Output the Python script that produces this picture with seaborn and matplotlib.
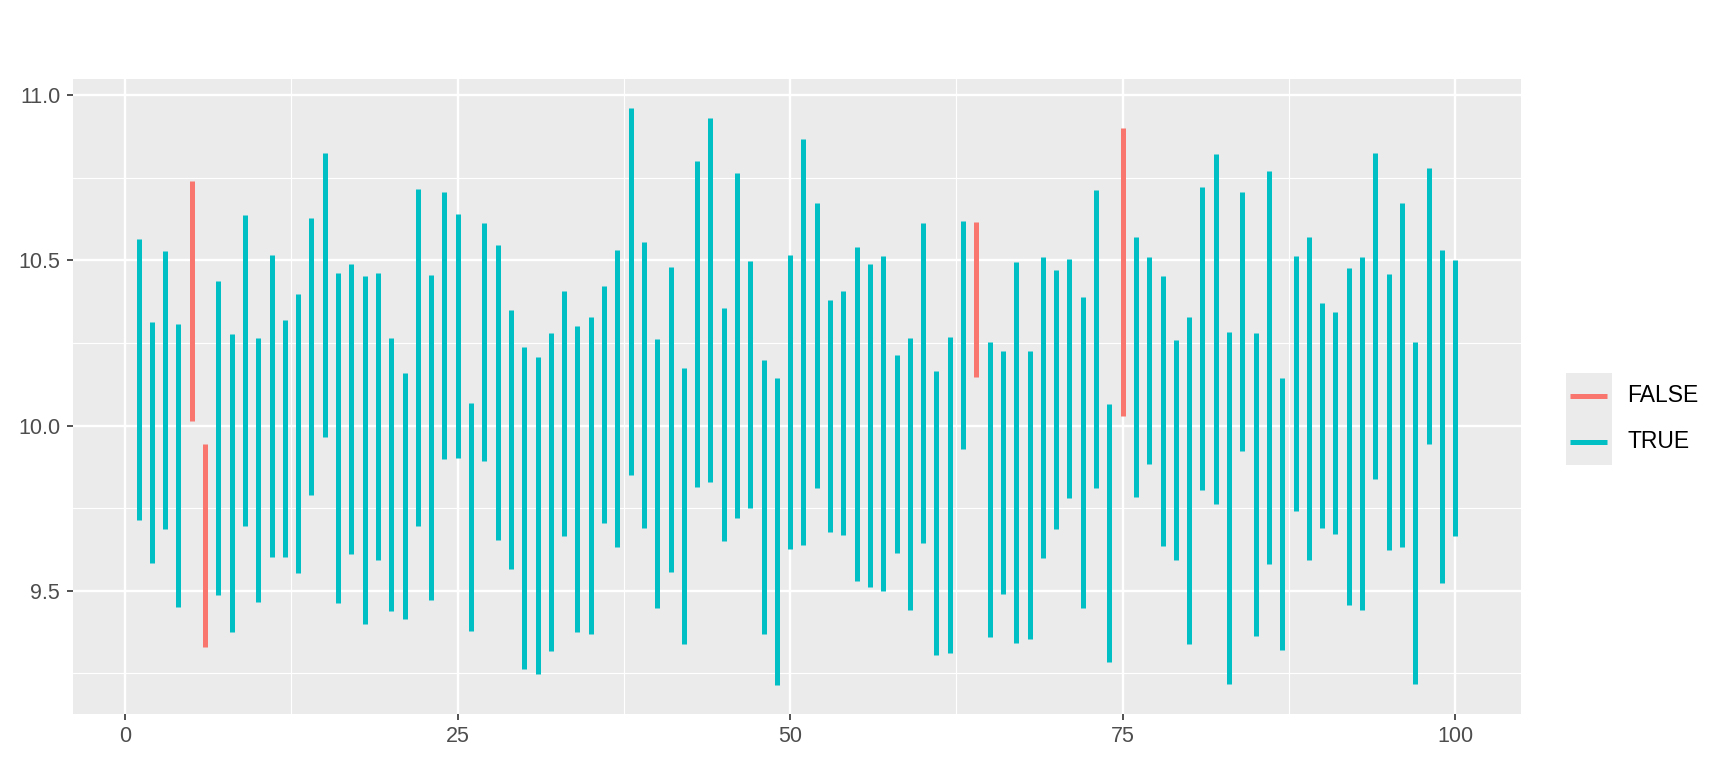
import pandas as pd
import numpy as np
import matplotlib
matplotlib.use("Agg")
import matplotlib.pyplot as plt
import seaborn as sns
from matplotlib.patches import Rectangle
from matplotlib.lines import Line2D

# intervalli (1..100)
ids = list(range(1, 101))
lo = [9.714, 9.585, 9.688, 9.452, 10.013, 9.331, 9.486, 9.374, 9.697, 9.467,
      9.603, 9.603, 9.555, 9.791, 9.964, 9.462, 9.612, 9.398, 9.594, 9.440,
      9.414, 9.697, 9.471, 9.898, 9.901, 9.377, 9.892, 9.655, 9.567, 9.263,
      9.247, 9.317, 9.666, 9.374, 9.368, 9.706, 9.633, 9.850, 9.690, 9.447,
      9.558, 9.338, 9.815, 9.829, 9.651, 9.721, 9.751, 9.368, 9.214, 9.627,
      9.640, 9.811, 9.679, 9.670, 9.530, 9.510, 9.500, 9.615, 9.443, 9.646,
      9.305, 9.313, 9.929, 10.146, 9.359, 9.491, 9.341, 9.353, 9.600, 9.688,
      9.780, 9.449, 9.811, 9.283, 10.028, 9.784, 9.883, 9.636, 9.594, 9.338,
      9.805, 9.763, 9.217, 9.923, 9.362, 9.582, 9.322, 9.742, 9.594, 9.690,
      9.673, 9.458, 9.443, 9.839, 9.624, 9.633, 9.217, 9.944, 9.524, 9.666]
hi = [10.566, 10.313, 10.528, 10.307, 10.739, 9.945, 10.437, 10.277, 10.636, 10.265,
      10.515, 10.320, 10.397, 10.629, 10.826, 10.461, 10.489, 10.452, 10.461, 10.265,
      10.160, 10.717, 10.456, 10.706, 10.640, 10.069, 10.612, 10.548, 10.349, 10.239,
      10.208, 10.280, 10.407, 10.301, 10.329, 10.421, 10.530, 10.962, 10.556, 10.263,
      10.480, 10.175, 10.802, 10.931, 10.355, 10.765, 10.497, 10.199, 10.145, 10.515,
      10.868, 10.673, 10.379, 10.407, 10.542, 10.489, 10.513, 10.214, 10.265, 10.612,
      10.166, 10.268, 10.618, 10.616, 10.253, 10.226, 10.494, 10.226, 10.509, 10.470,
      10.504, 10.388, 10.714, 10.066, 10.901, 10.570, 10.509, 10.452, 10.259, 10.329,
      10.723, 10.822, 10.283, 10.708, 10.280, 10.772, 10.145, 10.513, 10.572, 10.371,
      10.344, 10.476, 10.509, 10.826, 10.458, 10.675, 10.253, 10.780, 10.530, 10.500]
true_value = 10.0
levels = ["FALSE", "TRUE"]
palette = {"FALSE": "#F8766D", "TRUE": "#00BFC4"}
xticks = [0, 25, 50, 75, 100]
yticks = [9.5, 10.0, 10.5, 11.0]

# tabella lunga: due punti (basso, alto) per ogni intervallo
df = pd.DataFrame({"id": ids, "lo": lo, "hi": hi})
df["covers"] = np.where((df["lo"] <= true_value) & (df["hi"] >= true_value), "TRUE", "FALSE")
long = df.melt(id_vars=["id", "covers"], value_vars=["lo", "hi"], value_name="y")

sns.set_style("darkgrid", {"axes.facecolor": "#EBEBEB", "grid.color": "white"})
plt.rcParams['font.family'] = ['Liberation Sans', 'DejaVu Sans']

fig = plt.figure(figsize=(17.28, 7.68), dpi=100)
ax = fig.add_axes([72.7 / 1728, 1 - 714 / 768, (1521 - 72.7) / 1728, (714 - 79) / 768])
sns.lineplot(data=long, x="id", y="y", hue="covers", hue_order=levels, units="id",
             estimator=None, palette=palette, linewidth=3.6, solid_capstyle="butt",
             legend=False, ax=ax)

ax.set_xlim(-3.95, 104.95)
ax.set_ylim(9.127, 11.049)
ax.set_xticks(xticks)
ax.set_xticklabels([str(t) for t in xticks])
ax.set_yticks(yticks)
ax.set_yticklabels([f"{t:.1f}" for t in yticks])
ax.set_xticks([12.5, 37.5, 62.5, 87.5], minor=True)
ax.set_yticks([9.25, 9.75, 10.25, 10.75], minor=True)
ax.grid(True, which="major", color="white", linewidth=1.7)
ax.grid(True, which="minor", color="white", linewidth=0.85)
ax.set_axisbelow(True)
for s in ax.spines.values():
    s.set_visible(False)
ax.tick_params(which="major", length=4.5, width=1.2, color="#333333",
               labelsize=15.5, labelcolor="#4D4D4D", bottom=True, left=True)
ax.tick_params(axis="x", which="major", pad=4)
ax.tick_params(axis="y", which="major", pad=4.5)
ax.tick_params(which="minor", length=0)
ax.set_xlabel("")
ax.set_ylabel("")

# legenda in stile ggplot
W, H = 1728, 768
fig.add_artist(Rectangle((1566 / W, 1 - 465 / H), 46 / W, 92 / H,
                         transform=fig.transFigure, facecolor="#EBEBEB", edgecolor="none"))
for lab, yy in zip(levels, [396, 442]):
    fig.add_artist(Line2D([1570 / W, 1607 / W], [1 - yy / H, 1 - yy / H], transform=fig.transFigure,
                          color=palette[lab], linewidth=3.6, solid_capstyle="butt"))
    fig.text(1627 / W, 1 - yy / H, lab, fontsize=16.5, color="black", va="center", ha="left")

fig.savefig("out.png", dpi=100)
